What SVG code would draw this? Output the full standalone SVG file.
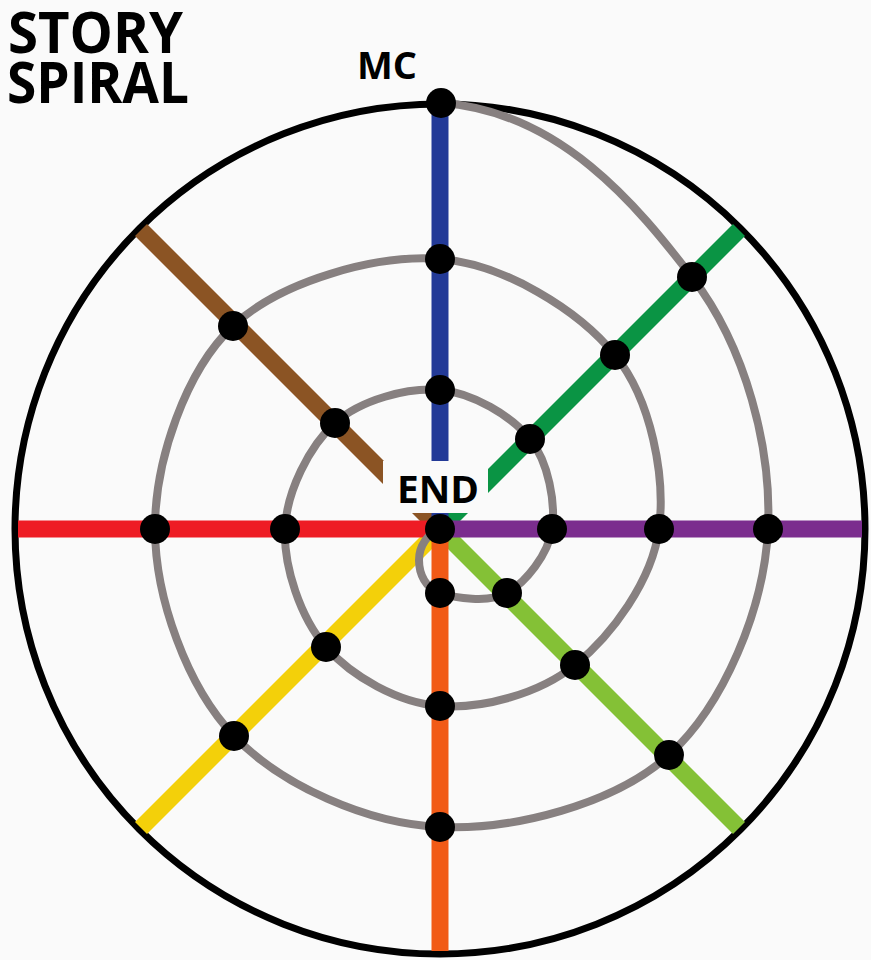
<svg xmlns="http://www.w3.org/2000/svg" width="871" height="960" viewBox="0 0 871 960">
<style>
.spoke{stroke-width:17;stroke-linecap:butt;fill:none}
.spiral{fill:none;stroke:#878080;stroke-width:8;stroke-linecap:round;stroke-linejoin:round}
.dot{fill:#000}
.lbl{font-family:"Open Sans","Liberation Sans",sans-serif;font-weight:bold;fill:#000}
</style>
<rect width="871" height="960" fill="#fafafa"/>
<g id="title">
<text class="lbl" x="8" y="53" font-size="57" textLength="175" lengthAdjust="spacingAndGlyphs">STORY</text>
<text class="lbl" x="7" y="103" font-size="57" textLength="182" lengthAdjust="spacingAndGlyphs">SPIRAL</text>
</g>
<g id="outer-circle">
<circle cx="440" cy="529" r="425" fill="none" stroke="#000" stroke-width="7"/>
</g>
<g id="connectors">
<line class="spoke" stroke="#84c136" x1="440" y1="529" x2="739" y2="828"/>
<line class="spoke" stroke="#f3d00a" x1="440" y1="529" x2="141" y2="828"/>
<line class="spoke" stroke="#f15a16" x1="440" y1="529" x2="440" y2="951"/>
<line class="spoke" stroke="#8b5424" x1="440" y1="529" x2="141" y2="230"/>
<line class="spoke" stroke="#0a9444" x1="440" y1="529" x2="739" y2="230"/>
<line class="spoke" stroke="#233a97" x1="440" y1="529" x2="440" y2="103"/>
<line class="spoke" stroke="#ee1c24" x1="440" y1="529" x2="18" y2="529"/>
<line class="spoke" stroke="#7b2d8e" x1="440" y1="529" x2="862" y2="529"/>
<path id="spiral" class="spiral" d="M441,103 C560,111 637.5,206 692,277 C746.5,348 771.8,449.3 768,529 C764.2,608.7 723.7,705.3 669,755 C614.3,804.7 512.5,830.2 440,827 C367.5,823.8 281.5,785.7 234,736 C186.5,686.3 155.2,597.3 155,529 C154.8,460.7 185.5,371 233,326 C280.5,281 376.3,254.2 440,259 C503.7,263.8 578.5,310 615,355 C651.5,400 665.7,477.3 659,529 C652.3,580.7 611.5,635.5 575,665 C538.5,694.5 481.5,709 440,706 C398.5,703 351.8,676.5 326,647 C300.2,617.5 283.5,566.3 285,529 C286.5,491.7 309.2,446.2 335,423 C360.8,399.8 407.5,387.3 440,390 C472.5,392.7 511.3,415.8 530,439 C548.7,462.2 555.8,503.3 552,529 C548.2,554.7 525.7,582.3 507,593 C488.3,603.7 454.5,597.7 440,593 C425.5,588.3 419,574 419,560 C419,546 428,533 440,529"/>
</g>
<g id="end-label">
<rect x="383" y="461" width="105" height="52" fill="#fafafa"/>
<text class="lbl" x="438" y="503" font-size="38" text-anchor="middle" textLength="82" lengthAdjust="spacingAndGlyphs">END</text>
</g>
<g id="mc-label">
<text class="lbl" x="387" y="79" font-size="38" text-anchor="middle">MC</text>
</g>
<g id="nodes">
<circle class="dot" id="n-mc" cx="441" cy="103" r="15"/>
<circle class="dot" id="n-blue2" cx="440" cy="259" r="15"/>
<circle class="dot" id="n-blue3" cx="440" cy="390" r="15"/>
<circle class="dot" id="n-brown1" cx="233" cy="326" r="15"/>
<circle class="dot" id="n-brown2" cx="335" cy="423" r="15"/>
<circle class="dot" id="n-green1" cx="692" cy="277" r="15"/>
<circle class="dot" id="n-green2" cx="615" cy="355" r="15"/>
<circle class="dot" id="n-green3" cx="530" cy="439" r="15"/>
<circle class="dot" id="n-red1" cx="155" cy="529" r="15"/>
<circle class="dot" id="n-red2" cx="285" cy="529" r="15"/>
<circle class="dot" id="n-center" cx="440" cy="529" r="15"/>
<circle class="dot" id="n-purple3" cx="552" cy="529" r="15"/>
<circle class="dot" id="n-purple2" cx="659" cy="529" r="15"/>
<circle class="dot" id="n-purple1" cx="768" cy="529" r="15"/>
<circle class="dot" id="n-orange3" cx="440" cy="593" r="15"/>
<circle class="dot" id="n-lgreen3" cx="507" cy="593" r="15"/>
<circle class="dot" id="n-yellow2" cx="326" cy="647" r="15"/>
<circle class="dot" id="n-lgreen2" cx="575" cy="665" r="15"/>
<circle class="dot" id="n-orange2" cx="440" cy="706" r="15"/>
<circle class="dot" id="n-yellow1" cx="234" cy="736" r="15"/>
<circle class="dot" id="n-lgreen1" cx="669" cy="755" r="15"/>
<circle class="dot" id="n-orange1" cx="440" cy="827" r="15"/>
</g>
</svg>
